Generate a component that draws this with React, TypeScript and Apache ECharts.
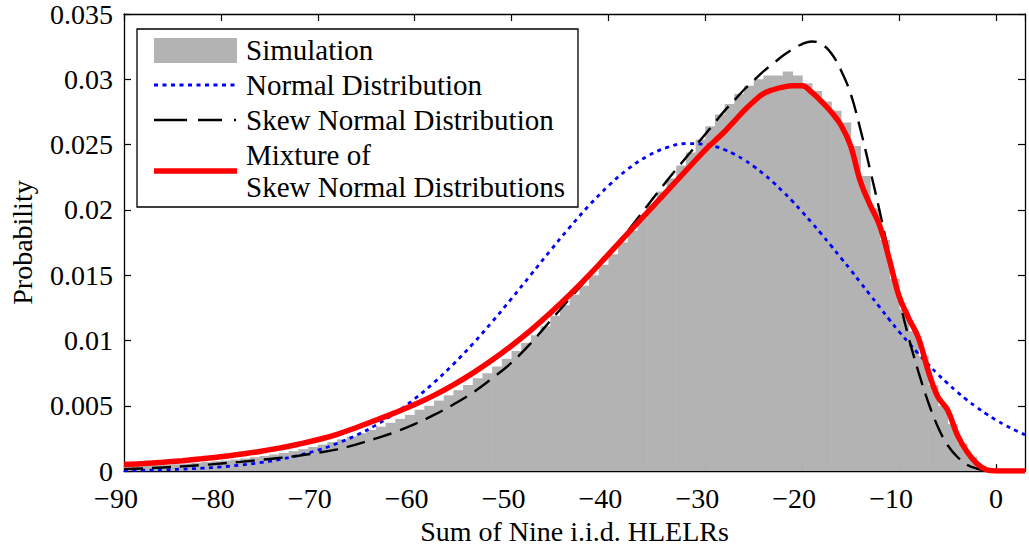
import React, { useEffect, useRef } from "react";
import * as echarts from "echarts";

const X_MIN = -90;
const X_MAX = 3;
const X_TICK_STEP = 10;
const Y_MIN = 0;
const Y_MAX = 0.035;
const Y_TICK_STEP = 0.005;

const X_TITLE = "Sum of Nine i.i.d. HLELRs";
const Y_TITLE = "Probability";

const LEGEND_LABELS = [
  "Simulation",
  "Normal Distribution",
  "Skew Normal Distribution",
  "Mixture of",
  "Skew Normal Distributions",
];

// x positions where the fitted curves were read
const CURVE_X = [
  -90, -88, -86, -84, -82, -80, -78, -76, -74, -72, -70, -68, -66, -64, -62,
  -60, -58, -56, -54, -52, -50, -48, -46, -44, -42, -40, -38, -36, -34, -32,
  -30, -29, -28, -27, -26, -25, -24, -23, -22, -21, -20, -19, -18, -17, -16,
  -15, -14, -13, -12, -11, -10, -9, -8, -7, -6, -5, -4, -3, -2, -1, 0, 1, 2, 3,
];

const NORMAL = [
  0.00004, 0.00007, 0.0001, 0.00015, 0.00022, 0.00032, 0.00046, 0.00064, 0.00088, 0.0012,
  0.0016, 0.00212, 0.00275, 0.00352, 0.00445, 0.00553, 0.00678, 0.00819, 0.00974, 0.01143,
  0.01321, 0.01504, 0.01688, 0.01866, 0.02034, 0.02184, 0.02312, 0.0241, 0.02477, 0.02508,
  0.02502, 0.02486, 0.0246, 0.02426, 0.02384, 0.02334, 0.02276, 0.02212, 0.02141, 0.02066,
  0.01985, 0.01901, 0.01814, 0.01724, 0.01633, 0.01541, 0.01445, 0.0135, 0.01255, 0.0116,
  0.01068, 0.00982, 0.00898, 0.00818, 0.00742, 0.00672, 0.00606, 0.00545, 0.0049, 0.00438,
  0.00392, 0.0035, 0.00312, 0.00278,
];

const SKEW_NORMAL = [
  0.00015, 0.0002, 0.00028, 0.00036, 0.00046, 0.00058, 0.00071, 0.00085, 0.001, 0.00118,
  0.0014, 0.00166, 0.00205, 0.0025, 0.003, 0.0036, 0.0043, 0.0051, 0.006, 0.0071,
  0.0083, 0.0098, 0.0115, 0.0132, 0.0149, 0.0166, 0.0184, 0.0203, 0.0222, 0.024,
  0.0258, 0.0267, 0.0276, 0.0284, 0.0292, 0.0299, 0.0306, 0.0312, 0.0318, 0.0323,
  0.0327, 0.0329, 0.0327, 0.032, 0.0307, 0.0289, 0.0262, 0.0231, 0.0199, 0.0165,
  0.0132, 0.0102, 0.0076, 0.0053, 0.0034, 0.002, 0.0011, 0.0005, 0.0002, 0.00005,
  0, 0, 0, 0,
];

const MIXTURE = [
  0.0005, 0.00058, 0.00068, 0.0008, 0.00094, 0.0011, 0.00129, 0.0015, 0.00176, 0.00206,
  0.0024, 0.00282, 0.00334, 0.0039, 0.00448, 0.0051, 0.0058, 0.0066, 0.0075, 0.0085,
  0.0096, 0.0108, 0.0121, 0.0135, 0.015, 0.0166, 0.0182, 0.0198, 0.0214, 0.023,
  0.0246, 0.0253, 0.026, 0.0268, 0.0276, 0.0283, 0.0289, 0.0292, 0.0294, 0.0295,
  0.0295, 0.029, 0.0283, 0.0275, 0.0265, 0.0249, 0.0222, 0.0204, 0.0188, 0.0162,
  0.0134, 0.0117, 0.0102, 0.0077, 0.0057, 0.0047, 0.0028, 0.0015, 0.0006, 0.0001,
  0, 0, 0, 0,
];

// simulated histogram, unit-width bins starting at -90
const HIST_FIRST_EDGE = -90;
const HIST_BIN_WIDTH = 1;
const HIST_VALUES = [
  0.00035, 0.00038, 0.00041, 0.00045, 0.00049, 0.00053, 0.00058, 0.00063, 0.00069, 0.00075,
  0.00082, 0.00089, 0.00097, 0.00106, 0.00116, 0.00127, 0.00139, 0.00153, 0.00168, 0.00185,
  0.00203, 0.00222, 0.00243, 0.00265, 0.0029, 0.00315, 0.0034, 0.0037, 0.004, 0.0043,
  0.0047, 0.005, 0.0054, 0.0058, 0.0062, 0.0066, 0.0071, 0.0075, 0.008, 0.0086,
  0.0092, 0.0098, 0.0104, 0.0111, 0.0119, 0.0127, 0.0135, 0.0142, 0.015, 0.0158,
  0.0166, 0.0175, 0.0184, 0.0194, 0.0204, 0.0214, 0.0224, 0.0234, 0.0244, 0.0254,
  0.0264, 0.0273, 0.0281, 0.0289, 0.0295, 0.03, 0.0303, 0.0303, 0.0306, 0.0303,
  0.0297, 0.0291, 0.0283, 0.0276, 0.0267, 0.0249, 0.0226, 0.0201, 0.0177, 0.0147,
  0.0124, 0.0107, 0.0088, 0.0066, 0.005, 0.0036, 0.0021, 0.0011, 0.0004, 0.0001,
];

const FONT = "'Liberation Serif', 'Times New Roman', serif";
const GRAY = "#b3b3b3";

// negative labels keep their digits centred on the tick, the minus hangs left
const fmtX = (v: number) => (v < 0 ? "\u2212" + Math.abs(v) + "{pad| }" : String(v));
const fmtY = (v: number) => String(parseFloat(v.toFixed(3)));

export default function App() {
  const ref = useRef<HTMLDivElement>(null);

  useEffect(() => {
    if (!ref.current) return;
    const chart = echarts.init(ref.current, null, { renderer: "svg" });

    const histData = HIST_VALUES.map((v, i) => {
      const x0 = HIST_FIRST_EDGE + i * HIST_BIN_WIDTH;
      return [x0, x0 + HIST_BIN_WIDTH, v];
    });
    const pairs = (ys: number[]) => CURVE_X.map((x, i) => [x, ys[i]]);

    const axisLine = { show: true, onZero: false, lineStyle: { color: "#000", width: 1.3 } };
    const tick = { show: true, inside: true, length: 7, lineStyle: { color: "#000", width: 1.2 } };
    const labelBase = { color: "#000", fontSize: 28, fontFamily: FONT };

    const legendText = (text: string, y: number) => ({
      type: "text",
      x: 246,
      y,
      z: 101,
      style: { text, fill: "#000", fontSize: 29, fontFamily: FONT, verticalAlign: "middle", align: "left" },
    });

    chart.setOption({
      animation: false,
      backgroundColor: "#fff",
      grid: { left: 124, right: 4, top: 13, bottom: 75, containLabel: false },
      xAxis: [
        {
          type: "value",
          min: X_MIN,
          max: X_MAX,
          interval: X_TICK_STEP,
          position: "bottom",
          axisLine,
          axisTick: tick,
          splitLine: { show: false },
          axisLabel: {
            ...labelBase,
            lineHeight: 22,
            margin: 16,
            formatter: fmtX,
            showMaxLabel: false,
            rich: { pad: { width: 16, lineHeight: 22, fontSize: 28, fontFamily: FONT } },
          },
          name: X_TITLE,
          nameLocation: "middle",
          nameGap: 38,
          nameTextStyle: { ...labelBase },
        },
        {
          type: "value",
          min: X_MIN,
          max: X_MAX,
          interval: X_TICK_STEP,
          position: "top",
          axisLine,
          axisTick: tick,
          splitLine: { show: false },
          axisLabel: { show: false },
        },
      ],
      yAxis: [
        {
          type: "value",
          min: Y_MIN,
          max: Y_MAX,
          interval: Y_TICK_STEP,
          position: "left",
          axisLine,
          axisTick: tick,
          splitLine: { show: false },
          axisLabel: { ...labelBase, lineHeight: 22, margin: 11, formatter: fmtY },
          name: Y_TITLE,
          nameLocation: "middle",
          nameGap: 88,
          nameRotate: 90,
          nameTextStyle: { ...labelBase },
        },
        {
          type: "value",
          min: Y_MIN,
          max: Y_MAX,
          interval: Y_TICK_STEP,
          position: "right",
          axisLine,
          axisTick: tick,
          splitLine: { show: false },
          axisLabel: { show: false },
        },
      ],
      series: [
        {
          name: LEGEND_LABELS[0],
          type: "custom",
          xAxisIndex: 0,
          yAxisIndex: 0,
          clip: true,
          z: 1,
          data: histData,
          encode: { x: [0, 1], y: 2 },
          itemStyle: { color: GRAY },
          renderItem: (params: any, api: any) => {
            const p0 = api.coord([api.value(0), api.value(2)]);
            const p1 = api.coord([api.value(1), 0]);
            return {
              type: "rect",
              shape: { x: p0[0], y: p0[1], width: p1[0] - p0[0] + 0.6, height: p1[1] - p0[1] },
              style: { fill: GRAY, stroke: null },
            };
          },
        },
        {
          name: LEGEND_LABELS[1],
          type: "line",
          data: pairs(NORMAL),
          symbol: "none",
          smooth: 0.4,
          z: 2,
          lineStyle: { color: "#0000ff", width: 2.8, type: [4, 4.5] },
        },
        {
          name: LEGEND_LABELS[2],
          type: "line",
          data: pairs(SKEW_NORMAL),
          symbol: "none",
          smooth: 0.4,
          z: 3,
          lineStyle: { color: "#000", width: 2.4, type: [19, 9] },
        },
        {
          name: LEGEND_LABELS[3] + " " + LEGEND_LABELS[4],
          type: "line",
          data: pairs(MIXTURE),
          symbol: "none",
          smooth: 0.4,
          z: 4,
          lineStyle: { color: "#ff0000", width: 5.5 },
        },
      ],
      graphic: [
        {
          type: "rect",
          z: 100,
          shape: { x: 137, y: 29, width: 441, height: 178 },
          style: { fill: "#fff", stroke: "#000", lineWidth: 1.3 },
        },
        {
          type: "rect",
          z: 101,
          shape: { x: 154, y: 38, width: 83, height: 25 },
          style: { fill: GRAY },
        },
        {
          type: "line",
          z: 101,
          shape: { x1: 154, y1: 85, x2: 237, y2: 85 },
          style: { stroke: "#0000ff", lineWidth: 2.8, lineDash: [4, 4.5] },
        },
        {
          type: "line",
          z: 101,
          shape: { x1: 154, y1: 120, x2: 237, y2: 120 },
          style: { stroke: "#000", lineWidth: 2.4, lineDash: [33, 11, 24, 12, 2, 40] },
        },
        {
          type: "line",
          z: 101,
          shape: { x1: 154, y1: 171, x2: 237, y2: 171 },
          style: { stroke: "#ff0000", lineWidth: 5.5 },
        },
        legendText(LEGEND_LABELS[0], 50),
        legendText(LEGEND_LABELS[1], 85),
        legendText(LEGEND_LABELS[2], 120),
        legendText(LEGEND_LABELS[3], 155),
        legendText(LEGEND_LABELS[4], 187),
      ],
    });

    return () => chart.dispose();
  }, []);

  return (
    <div
      ref={ref}
      style={{ position: "fixed", left: 0, top: 0, width: 1029, height: 550, background: "#fff" }}
    />
  );
}
